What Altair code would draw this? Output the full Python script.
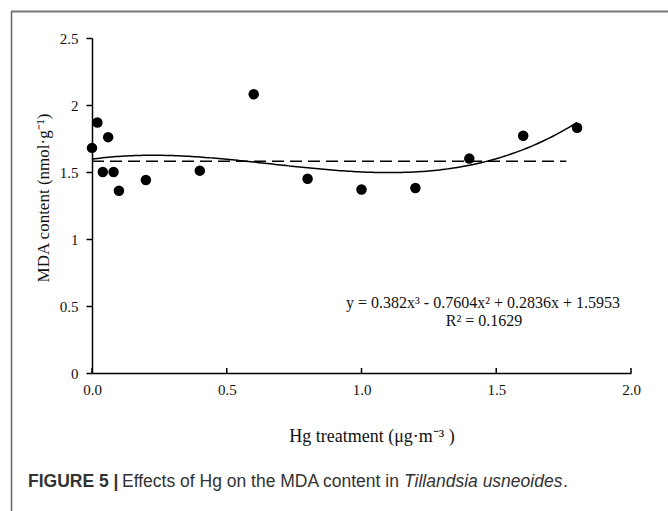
import altair as alt
import pandas as pd

# Measured MDA content at each Hg treatment level
hg = [0.0, 0.02, 0.04, 0.06, 0.08, 0.10, 0.2, 0.4, 0.6, 0.8, 1.0, 1.2, 1.4, 1.6, 1.8]
mda = [1.68, 1.87, 1.50, 1.76, 1.50, 1.36, 1.44, 1.51, 2.08, 1.45, 1.37, 1.38, 1.60, 1.77, 1.83]

# Cubic trend-line coefficients (x^3, x^2, x, const) and fit statistic
coef = [0.382, -0.7604, 0.2836, 1.5953]
r2 = 0.1629

# Horizontal reference level
ref_level = 1.58
ref_span = [0.0, 1.76]

x_ticks = [0.0, 0.5, 1.0, 1.5, 2.0]
y_ticks = [0, 0.5, 1, 1.5, 2, 2.5]

W, H = 539, 335
SERIF = "Liberation Serif"
SANS = "Liberation Sans"
INK = "#111111"
CAP = "#333333"

pts = pd.DataFrame({"hg": hg, "mda": mda})

xs = alt.Scale(domain=[0, 2])
ys = alt.Scale(domain=[0, 2.5])

points = alt.Chart(pts).mark_circle(size=110, color="black", opacity=1).encode(
    x=alt.X("hg:Q", scale=xs,
            axis=alt.Axis(values=x_ticks, format=".1f", ticks=False, grid=False,
                          labelFlush=False,
                          labelFont=SERIF, labelFontSize=15, labelColor=INK,
                          labelPadding=9, domainColor="black", domainWidth=1.5,
                          title=None)),
    y=alt.Y("mda:Q", scale=ys,
            axis=alt.Axis(values=y_ticks, format="~g", grid=False, tickSize=6,
                          tickColor="black", tickWidth=1.5, labelFlush=False,
                          labelFont=SERIF, labelFontSize=15, labelColor=INK,
                          labelPadding=8, domainColor="black", domainWidth=1.5,
                          title=None)),
)

# Inward x-axis tick marks
xtick_df = pd.DataFrame({"t": x_ticks})
xticks = alt.Chart(xtick_df).mark_rule(color="black", strokeWidth=1.5).encode(
    x=alt.X("t:Q", scale=xs), y=alt.value(H), y2=alt.value(H - 5)
)

# Cubic trend line evaluated from the coefficients
poly = (f"{coef[0]}*pow(datum.x,3) + ({coef[1]})*pow(datum.x,2) + "
        f"{coef[2]}*datum.x + {coef[3]}")
trend = alt.Chart(alt.sequence(0, 1.801, 0.01, as_="x")).transform_calculate(
    y=poly
).mark_line(color="black", strokeWidth=1.5).encode(
    x=alt.X("x:Q", scale=xs), y=alt.Y("y:Q", scale=ys)
)

ref_df = pd.DataFrame({"x0": [ref_span[0]], "x1": [ref_span[1]], "y": [ref_level]})
ref = alt.Chart(ref_df).mark_rule(color="black", strokeWidth=1.5,
                                  strokeDash=[12, 6]).encode(
    x=alt.X("x0:Q", scale=xs), x2="x1:Q", y=alt.Y("y:Q", scale=ys)
)

def label(text, x, y, font=SERIF, size=15, weight="normal", style="normal",
          align="center", angle=0, color=INK, baseline="middle"):
    return alt.Chart(pd.DataFrame({"t": [text]})).mark_text(
        font=font, fontSize=size, fontWeight=weight, fontStyle=style,
        align=align, baseline=baseline, angle=angle, color=color,
    ).encode(text="t:N", x=alt.value(x), y=alt.value(y))

eq1 = label("y = 0.382x³ - 0.7604x² + 0.2836x + 1.5953", 391, 265, size=16)
eq2 = label(f"R² = {r2}", 392, 283, size=16)
xtitle = label("Hg treatment (μg·m⁻³ )", 280, 399, size=18)
ytitle = label("MDA content (nmol·g⁻¹)", -48, 160, size=17, angle=270)

cap_y = 449
cap1 = label("FIGURE 5 |", -64, cap_y, font=SANS, size=17.5, weight="bold",
             align="left", color=CAP, baseline="alphabetic")
cap2 = label("Effects of Hg on the MDA content in", 30, cap_y, font=SANS, size=17.5,
             align="left", color=CAP, baseline="alphabetic")
cap3 = label("Tillandsia usneoides", 312, cap_y, font=SANS, size=17.5, style="italic",
             align="left", color=CAP, baseline="alphabetic")
cap4 = label(".", 471, cap_y, font=SANS, size=17.5,
             align="left", color=CAP, baseline="alphabetic")

# Figure frame (left and top edges)
frame_df = pd.DataFrame({"k": [0]})
frame_left = alt.Chart(frame_df).mark_rule(color="#666666", strokeWidth=1.5).encode(
    x=alt.value(-80.5), y=alt.value(-27), y2=alt.value(H + 138)
)
frame_top = alt.Chart(frame_df).mark_rule(color="#777777", strokeWidth=2).encode(
    x=alt.value(-81), x2=alt.value(W + 40), y=alt.value(-26.5)
)

chart = alt.layer(
    frame_left, frame_top, ref, trend, points, xticks,
    eq1, eq2, xtitle, ytitle, cap1, cap2, cap3, cap4,
).properties(
    width=W, height=H,
    padding={"left": 92, "top": 38, "right": 37, "bottom": 138},
    autosize=alt.AutoSizeParams(type="none"),
    background="white",
).configure_view(stroke=None)

chart.save("out.html", embed_options={"renderer": "svg", "actions": False})
